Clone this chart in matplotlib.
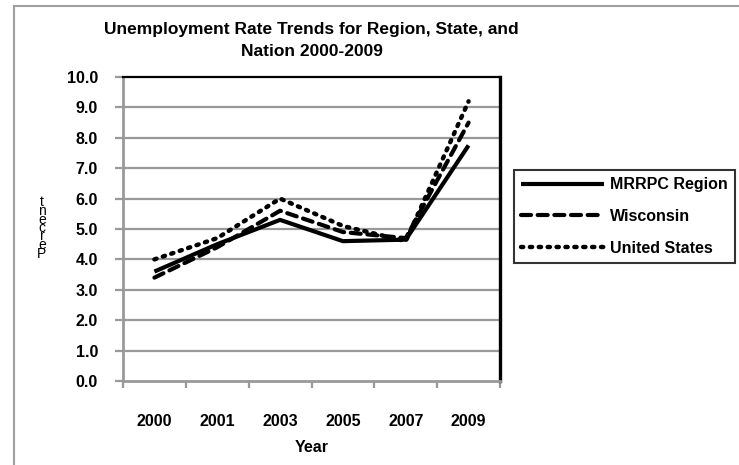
import matplotlib
matplotlib.use("Agg")
import matplotlib.pyplot as plt
from matplotlib.lines import Line2D

plt.rcParams['font.family'] = ['Liberation Sans', 'DejaVu Sans']
plt.rcParams['font.weight'] = 'bold'

# data
years = ["2000", "2001", "2003", "2005", "2007", "2009"]
mrrpc = [3.6, 4.5, 5.3, 4.6, 4.65, 7.75]
wisconsin = [3.4, 4.4, 5.6, 4.9, 4.7, 8.5]
united_states = [4.0, 4.7, 6.0, 5.1, 4.6, 9.2]
y_ticks = [0, 1, 2, 3, 4, 5, 6, 7, 8, 9, 10]

GRAY = "#999999"

fig = plt.figure(figsize=(7.39, 4.65), dpi=100)
ax = fig.add_axes([123 / 739, 84 / 465, 377 / 739, 304 / 465])

x = list(range(len(years)))
ax.plot(x, mrrpc, color="k", lw=3.0, solid_capstyle="butt", label="MRRPC Region", zorder=3)
ax.plot(x, wisconsin, color="k", lw=3.0, dashes=(2.4, 1.6), dash_capstyle="round",
        label="Wisconsin", zorder=3)
ax.plot(x, united_states, color="k", lw=3.2, dashes=(0.5, 1.5), dash_capstyle="round",
        label="United States", zorder=3)

ax.set_xlim(-0.5, len(years) - 0.5)
ax.set_ylim(0, 10)
ax.set_yticks(y_ticks)
ax.set_yticklabels([f"{v:.1f}" for v in y_ticks])
ax.set_xticks(x)
ax.set_xticklabels(years)
ax.set_xticks([i - 0.5 for i in range(len(years) + 1)], minor=True)

for v in y_ticks[1:-1]:
    ax.axhline(v, color=GRAY, lw=1.6, zorder=1)

ax.tick_params(axis="y", length=6, width=1.6, color=GRAY, pad=12, labelsize=11.5)
ax.tick_params(axis="x", which="major", length=0, pad=24, labelsize=11.5)
ax.tick_params(axis="x", which="minor", length=5, width=1.6, color=GRAY)

for side in ["left", "bottom"]:
    ax.spines[side].set_color(GRAY)
    ax.spines[side].set_linewidth(2.0)
ax.spines["top"].set_color("k")
ax.spines["top"].set_linewidth(1.6)
ax.spines["right"].set_color("k")
ax.spines["right"].set_linewidth(2.4)

ax.set_xlabel("Year", fontsize=11.5, fontweight="bold", labelpad=8)
ax.set_title("Unemployment Rate Trends for Region, State, and\nNation 2000-2009",
             fontsize=12.5, fontweight="bold", pad=15, linespacing=1.6)

# stacked y-axis label as in the original export
fig.text(42 / 739, 1 - 228 / 465, "t\nn\ne\nc\nr\ne\nP", ha="center", va="center",
         fontsize=10, fontweight="normal", linespacing=0.5)

leg = fig.legend(loc="upper left", bbox_to_anchor=(514 / 739, 1 - 170 / 465),
                 frameon=True, fancybox=False, edgecolor="k", fontsize=11.5,
                 handlelength=5.2, handletextpad=0.35, borderaxespad=0,
                 borderpad=0.45, labelspacing=1.05)
leg.get_frame().set_linewidth(1.5)

# gray chart-area border
fig.add_artist(Line2D([14 / 739, 14 / 739], [0, 1 - 6 / 465], color="#a0a0a0", lw=1.5))
fig.add_artist(Line2D([14 / 739, 1], [1 - 6 / 465, 1 - 6 / 465], color="#a0a0a0", lw=1.5))

fig.savefig("out.png", dpi=100)
